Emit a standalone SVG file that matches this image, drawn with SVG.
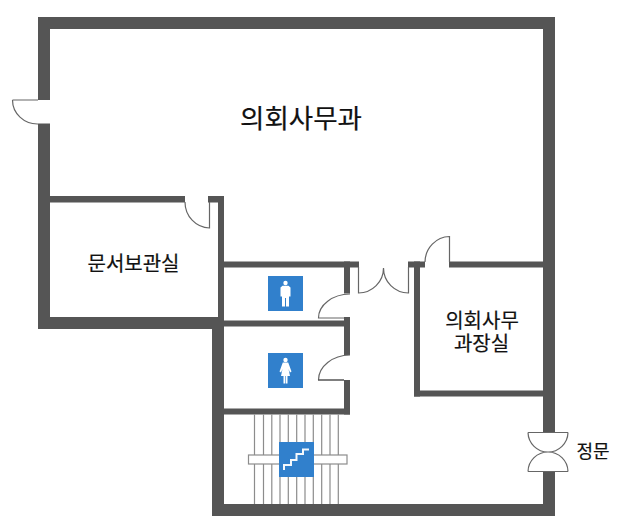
<svg xmlns="http://www.w3.org/2000/svg" width="620" height="532" viewBox="0 0 620 532">
<style>
.wall{fill:#555;stroke:none}
.door{fill:none;stroke:#666;stroke-width:1.2}
.jamb{fill:none;stroke:#555;stroke-width:1.5}
.stair{stroke:#8c8c8c;stroke-width:1.2;fill:none}
.sign{fill:#3180cc}
.ico{fill:#fff}
.lbl{font-family:"Noto Sans CJK KR","Noto Sans",sans-serif;font-weight:400;fill:#111;stroke:#111;stroke-width:.2;text-anchor:middle}
</style>
<rect width="620" height="532" fill="#fff"/>
<g id="walls">
<rect class="wall" x="38" y="17" width="517" height="12"/>
<rect class="wall" x="38" y="17" width="12" height="83"/>
<rect class="wall" x="38" y="123.500" width="12" height="205.500"/>
<rect class="wall" x="38" y="317" width="186" height="12"/>
<rect class="wall" x="543" y="17" width="12" height="415"/>
<rect class="wall" x="543" y="471.500" width="12" height="44.500"/>
<rect class="wall" x="212" y="317" width="12" height="199"/>
<rect class="wall" x="212" y="504" width="343" height="12"/>
<rect class="wall" x="50" y="196" width="135" height="6.500"/>
<rect class="wall" x="208" y="196" width="16" height="6.500"/>
<rect class="wall" x="218" y="196" width="6" height="125"/>
<rect class="wall" x="224" y="261.500" width="135" height="6"/>
<rect class="wall" x="344" y="261.500" width="6" height="32"/>
<rect class="wall" x="224" y="320.500" width="126" height="6"/>
<rect class="wall" x="344" y="317" width="6" height="38"/>
<rect class="wall" x="344" y="380" width="6" height="34.500"/>
<rect class="wall" x="224" y="408.500" width="126" height="6"/>
<rect class="wall" x="408" y="261.500" width="17" height="6"/>
<rect class="wall" x="449" y="261.500" width="94" height="6"/>
<rect class="wall" x="414" y="261.500" width="6" height="135"/>
<rect class="wall" x="414" y="390.500" width="129" height="6"/>
</g>
<g id="connectors">
<g id="door-west"><path class="door" d="M12.500 100H38M12.500 100A25 24 0 0 0 38 124"/></g>
<g id="door-archive"><path class="door" d="M185 202A25 26 0 0 0 209.500 228V202"/></g>
<g id="door-men"><path class="door" d="M350 294A32 24 0 0 0 318.500 318H344"/></g>
<g id="door-women"><path class="door" d="M350 355A32 25 0 0 0 318.500 380"/><path class="jamb" d="M318 380H344"/></g>
<g id="door-double"><path class="door" d="M358.500 267V293A25 25 0 0 0 383.500 268A25 25 0 0 0 408.500 293V267"/></g>
<g id="door-chief"><path class="door" d="M425 262A25 26 0 0 1 449.500 236.500V262"/></g>
<g id="door-main"><path class="door" d="M528 432.500H568M528 432.500A20 20 0 0 0 548 452A20 20 0 0 0 568 432.500M528 471.500H568M528 471.500A20 20 0 0 1 548 452A20 20 0 0 1 568 471.500"/></g>
</g>
<g id="stairs">
<path class="stair" d="M254.500 414.500V504M263.500 414.500V504M271.800 414.500V504M280 414.500V504M288.300 414.500V504M296.700 414.500V504M305 414.500V504M313.300 414.500V504M321.700 414.500V504M330 414.500V504M338.300 414.500V504"/>
<rect x="248.500" y="455" width="98.500" height="9" fill="#fff" stroke="#8c8c8c" stroke-width="1.200"/>
<rect class="sign" x="279" y="442" width="35" height="35"/>
<path d="M284 470V465H291V460H296.500V454H303V449.500H309" fill="none" stroke="#f4f8fc" stroke-width="2"/>
</g>
<g id="sign-men">
<rect class="sign" x="268" y="276" width="35" height="35"/>
<circle class="ico" cx="285.500" cy="283" r="2.200"/>
<path class="ico" d="M282.500 285.800H288.500L290.500 287.500V296.500H289V306.500H286V298H285V306.500H282V296.500H280.500V287.500Z"/>
</g>
<g id="sign-women">
<rect class="sign" x="268" y="353" width="35" height="35"/>
<circle class="ico" cx="285.500" cy="360" r="2.200"/>
<path class="ico" d="M282.800 362.500H288.200L291.500 371.500L290 372.500L288.500 369L290 376H287.500V383.500H285.800V376H285.200V383.500H283.500V376H281L282.500 369L281 372.500L279.500 371.500Z"/>
</g>
<g id="labels">
<text class="lbl" x="301" y="128" font-size="26.500">의회사무과</text>
<text class="lbl" x="133.500" y="271" font-size="20">문서보관실</text>
<text class="lbl" x="482" y="327.500" font-size="20">의회사무<tspan x="481.500" dy="23.500">과장실</tspan></text>
<text class="lbl" x="593" y="458" font-size="18">정문</text>
</g>
</svg>
